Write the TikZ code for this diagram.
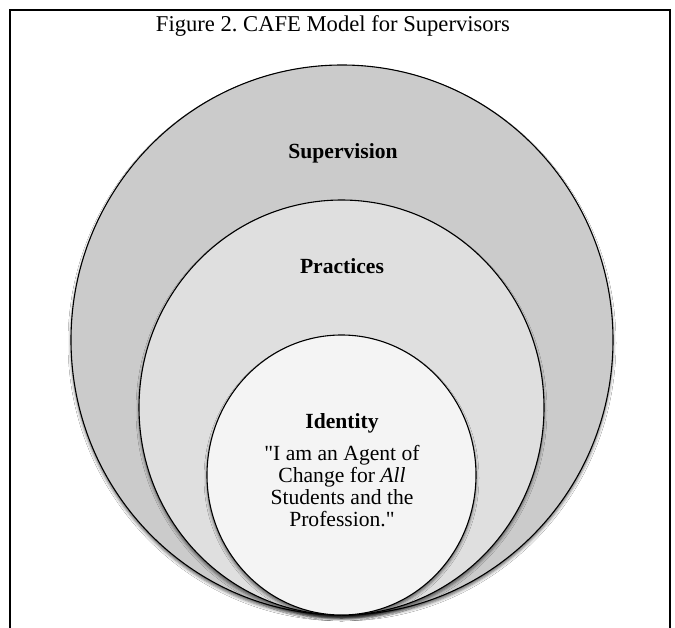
\documentclass[tikz,border=0pt]{standalone}
\usepackage{fontspec}
\setmainfont{Liberation Serif}[Ligatures=TeXOff]
\usetikzlibrary{shapes.geometric,shadows.blur}
\definecolor{outerfill}{HTML}{CBCBCB}
\definecolor{midfill}{HTML}{DFDFDF}
\definecolor{innerfill}{HTML}{F4F4F4}
\frenchspacing
\begin{document}
\begin{tikzpicture}[x=1pt,y=-1pt,
  ring/.style={ellipse, draw=black, line width=1.1pt, inner sep=0pt, outer sep=0pt,
    blur shadow={shadow xshift=0pt, shadow yshift=-3pt, shadow blur radius=3pt, shadow opacity=60}},
  label/.style={font=\fontsize{21.6}{22.3}\selectfont, anchor=base, inner sep=0pt},
  frameline/.style={line width=1.3pt, draw=black}]
\useasboundingbox (0,0) rectangle (675,627);
\fill[white] (0,0) rectangle (675,627);
% frame
\coordinate (fbl) at (10,628);
\coordinate (ftl) at (10,10);
\coordinate (ftr) at (670,10);
\coordinate (fbr) at (670,628);
\draw[frameline] (fbl) -- (ftl) -- (ftr) -- (fbr);
% title
\node[label, font=\fontsize{22.6}{24}\selectfont] (title) at (333,31) {Figure 2. CAFE Model for Supervisors};
% circles
\node[ring, fill=outerfill, minimum width=542pt, minimum height=550pt] (outer) at (342,340) {};
\node[ring, fill=midfill, minimum width=405pt, minimum height=415pt] (middle) at (341.5,407.5) {};
\node[ring, fill=innerfill, minimum width=269pt, minimum height=280pt] (inner) at (341.5,475) {};
% labels
\node[label] (sup) at (343,158) {\textbf{Supervision}};
\node[label] (prac) at (342,273) {\textbf{Practices}};
\node[label] (ident) at (342,428) {\textbf{Identity}};
\node[label] (q1) at (342,460) {"I am an Agent of};
\node[label] (q2) at (342,482.3) {Change for \textit{All}};
\node[label] (q3) at (342,504.6) {Students and the};
\node[label] (q4) at (342,526.9) {Profession."};
\end{tikzpicture}
\end{document}
